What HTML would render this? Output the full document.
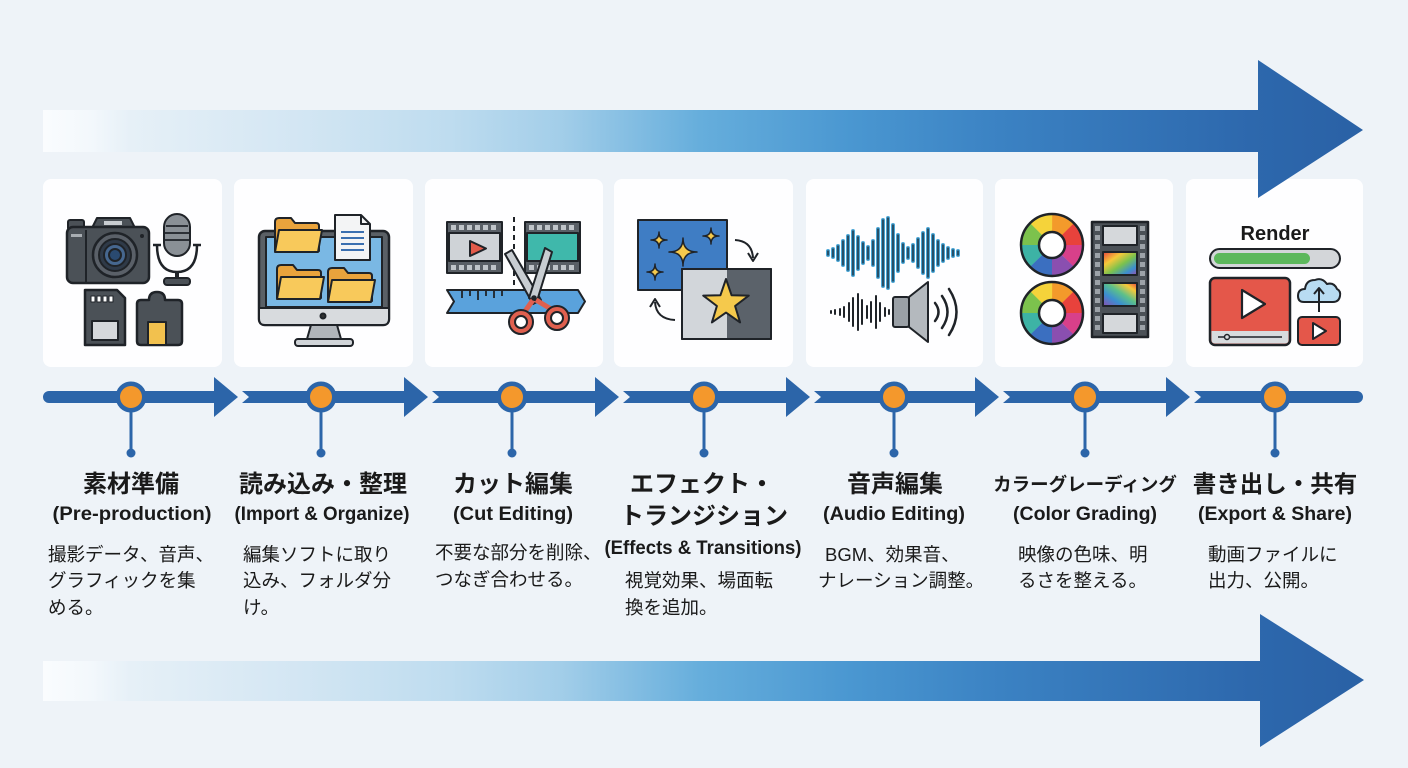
<!DOCTYPE html>
<html><head><meta charset="utf-8"><style>
html,body{margin:0;padding:0;background:#eef3f8;}
svg{display:block;}
text{font-family:"Liberation Sans","Noto Sans CJK JP",sans-serif;fill:#1a1a1a;}
.t{font-size:24px;font-weight:bold;text-anchor:middle;}
.e{font-size:19px;font-weight:bold;text-anchor:middle;}
.d{font-size:18.5px;}
.o{stroke:#1f2328;stroke-width:2;stroke-linejoin:round;}
</style></head><body>
<svg width="1408" height="768" viewBox="0 0 1408 768" xmlns="http://www.w3.org/2000/svg">
<defs>
<linearGradient id="ag" gradientUnits="userSpaceOnUse" x1="43" y1="0" x2="1364" y2="0">
<stop offset="0" stop-color="#fafcfe"/><stop offset="0.036" stop-color="#f3f8fc"/><stop offset="0.066" stop-color="#e6f0f7"/>
<stop offset="0.195" stop-color="#d3e6f3"/><stop offset="0.308" stop-color="#bedcef"/><stop offset="0.391" stop-color="#a3cee9"/>
<stop offset="0.497" stop-color="#66aedc"/><stop offset="0.611" stop-color="#4a97d1"/><stop offset="0.724" stop-color="#3b82c3"/>
<stop offset="0.914" stop-color="#2d68ad"/><stop offset="1" stop-color="#2a61a5"/>
</linearGradient>
<linearGradient id="rb1" x1="0" y1="0" x2="1" y2="1">
<stop offset="0" stop-color="#e8423c"/><stop offset="0.3" stop-color="#f5c93a"/><stop offset="0.55" stop-color="#7cc24d"/><stop offset="0.8" stop-color="#3b8fd0"/><stop offset="1" stop-color="#9a4fb0"/>
</linearGradient>
<linearGradient id="rb2" x1="0" y1="1" x2="1" y2="0">
<stop offset="0" stop-color="#8a4fb0"/><stop offset="0.3" stop-color="#3b8fd0"/><stop offset="0.55" stop-color="#5cc08a"/><stop offset="0.8" stop-color="#f5c93a"/><stop offset="1" stop-color="#e8423c"/>
</linearGradient>
<g id="folder">
<path class="o" d="M0,34 L0,5 Q0,1 4,1 L16,1 L20,6 L41,6 Q44,6 44,9 L44,34 Z" fill="#e9a33c"/>
<path class="o" d="M4,13 L47,13 L43,35 L0,35 Z" fill="#f8c95b"/>
</g>
<g id="wheel">
<circle r="22" fill="none" stroke="#f39a2b" stroke-width="18" stroke-dasharray="17.4 200" transform="rotate(-90)"/>
<circle r="22" fill="none" stroke="#e8423c" stroke-width="18" stroke-dasharray="17.4 200" transform="rotate(-45)"/>
<circle r="22" fill="none" stroke="#d8408a" stroke-width="18" stroke-dasharray="17.4 200" transform="rotate(0)"/>
<circle r="22" fill="none" stroke="#8a4fb0" stroke-width="18" stroke-dasharray="17.4 200" transform="rotate(45)"/>
<circle r="22" fill="none" stroke="#3b6fc0" stroke-width="18" stroke-dasharray="17.4 200" transform="rotate(90)"/>
<circle r="22" fill="none" stroke="#3db3a5" stroke-width="18" stroke-dasharray="17.4 200" transform="rotate(135)"/>
<circle r="22" fill="none" stroke="#7cc24d" stroke-width="18" stroke-dasharray="17.4 200" transform="rotate(180)"/>
<circle r="22" fill="none" stroke="#f5d33a" stroke-width="18" stroke-dasharray="17.4 200" transform="rotate(225)"/>
<circle r="31" fill="none" stroke="#1f2328" stroke-width="2.5"/>
<circle r="13" fill="#fff" stroke="#1f2328" stroke-width="2.5"/>
</g>
</defs>

<rect width="1408" height="768" fill="#eef3f8"/>

<!-- bottom arrow -->
<path d="M43,661 L1260,661 L1260,614 L1364,680 L1260,747 L1260,701 L43,701 Z" fill="url(#ag)"/>

<!-- cards -->
<g fill="#fefeff">
<rect x="43" y="179" width="179" height="188" rx="8"/>
<rect x="234" y="179" width="179" height="188" rx="8"/>
<rect x="425" y="179" width="178" height="188" rx="8"/>
<rect x="614" y="179" width="179" height="188" rx="8"/>
<rect x="806" y="179" width="177" height="188" rx="8"/>
<rect x="995" y="179" width="178" height="188" rx="8"/>
<rect x="1186" y="179" width="177" height="188" rx="8"/>
</g>

<!-- top arrow (drawn over cards) -->
<path d="M43,110 L1258,110 L1258,60 L1363,130 L1258,198 L1258,152 L43,152 Z" fill="url(#ag)"/>

<!-- card 1 icons -->
<g class="o">
<rect x="68" y="220" width="16" height="10" rx="2" fill="#4b5157"/>
<path d="M92,228 L97,218 L130,218 L135,228 Z" fill="#4b5157"/>
<rect x="67" y="227" width="82" height="56" rx="6" fill="#4b5157" stroke-width="2.5"/>
<line x1="86" y1="230" x2="86" y2="283"/>
<rect x="104" y="221" width="18" height="4" fill="#c8ccd0" stroke="none"/>
<rect x="71" y="234" width="11" height="3" fill="#a8adb2" stroke="none"/>
<circle cx="115" cy="255" r="22" fill="#5a6068" stroke-width="2.5"/>
<circle cx="115" cy="255" r="16" fill="#2f3a48"/>
<circle cx="115" cy="255" r="11" fill="#46678f"/>
<circle cx="115" cy="255" r="6" fill="#2a4a70"/>
<circle cx="142" cy="236" r="2" fill="#1f2328" stroke="none"/>
<rect x="164" y="214" width="26" height="42" rx="13" fill="#8a9096"/>
<line x1="166" y1="226" x2="188" y2="226" stroke-width="1.8"/>
<line x1="165" y1="233" x2="189" y2="233" stroke-width="1.8"/>
<line x1="165" y1="240" x2="189" y2="240" stroke-width="1.8"/>
<path d="M157,245 Q157,272 177,272 Q197,272 197,245" fill="none" stroke-width="2.5"/>
<line x1="153" y1="245" x2="161" y2="245" stroke-width="2.5"/>
<line x1="193" y1="245" x2="201" y2="245" stroke-width="2.5"/>
<line x1="177" y1="272" x2="177" y2="280" stroke-width="4"/>
<rect x="164" y="278" width="26" height="7" rx="3" fill="#4b5157"/>
<path d="M85,290 L117,290 L125,298 L125,345 L85,345 Z" fill="#4b5157" stroke-width="2.5"/>
<rect x="91" y="296" width="4" height="6" fill="#fff" stroke-width="1"/>
<rect x="97" y="296" width="4" height="6" fill="#fff" stroke-width="1"/>
<rect x="103" y="296" width="4" height="6" fill="#fff" stroke-width="1"/>
<rect x="109" y="296" width="4" height="6" fill="#fff" stroke-width="1"/>
<rect x="92" y="321" width="26" height="19" fill="#d5d8db"/>
<path d="M141,300 L149,300 Q149,292 157,292 Q165,292 165,300 L178,300 Q182,300 182,304 L182,341 Q182,345 178,345 L141,345 Q137,345 137,341 L137,304 Q137,300 141,300 Z" fill="#4b5157" stroke-width="2.5"/>
<rect x="148" y="322" width="18" height="23" fill="#f2c14e"/>
</g>

<!-- card 2 icons -->
<g class="o">
<rect x="259" y="231" width="130" height="94" rx="6" fill="#5a6066" stroke-width="2.5"/>
<rect x="266" y="237" width="116" height="70" fill="#7ab8e4"/>
<path d="M259,308 L389,308 L389,319 Q389,325 383,325 L265,325 Q259,325 259,319 Z" fill="#d8dbde"/>
<circle cx="323" cy="316" r="2.5" fill="#333"/>
<path d="M311,325 L337,325 L341,339 L307,339 Z" fill="#b0b5ba"/>
<rect x="295" y="339" width="58" height="7" rx="3" fill="#d0d4d8"/>
<path d="M335,215 L361,215 L370,224 L370,260 L335,260 Z" fill="#f3f4f5"/>
<path d="M361,215 L361,224 L370,224" fill="none"/>
<g stroke="#3a6fb0" stroke-width="2"><line x1="341" y1="232" x2="364" y2="232"/><line x1="341" y1="238" x2="364" y2="238"/><line x1="341" y1="244" x2="364" y2="244"/><line x1="341" y1="250" x2="364" y2="250"/></g>
</g>
<use href="#folder" x="275" y="217"/>
<use href="#folder" x="277" y="264"/>
<use href="#folder" x="328" y="267"/>

<!-- card 3 icons -->
<g class="o">
<rect x="447" y="222" width="55" height="51" fill="#595f66"/>
<rect x="449" y="233" width="51" height="28" fill="#cfd3d7"/>
<rect x="525" y="222" width="55" height="51" fill="#595f66"/>
<rect x="527" y="233" width="51" height="28" fill="#3fb8ab"/>
<path d="M470,241 L486,248.5 L470,256 Z" fill="#e35b4a"/>
</g>
<g fill="#bfc4c9">
<rect x="451" y="225" width="5" height="5"/><rect x="459" y="225" width="5" height="5"/><rect x="467" y="225" width="5" height="5"/><rect x="475" y="225" width="5" height="5"/><rect x="483" y="225" width="5" height="5"/><rect x="491" y="225" width="5" height="5"/>
<rect x="451" y="265" width="5" height="5"/><rect x="459" y="265" width="5" height="5"/><rect x="467" y="265" width="5" height="5"/><rect x="475" y="265" width="5" height="5"/><rect x="483" y="265" width="5" height="5"/><rect x="491" y="265" width="5" height="5"/>
<rect x="529" y="225" width="5" height="5"/><rect x="537" y="225" width="5" height="5"/><rect x="545" y="225" width="5" height="5"/><rect x="553" y="225" width="5" height="5"/><rect x="561" y="225" width="5" height="5"/><rect x="569" y="225" width="5" height="5"/>
<rect x="529" y="265" width="5" height="5"/><rect x="537" y="265" width="5" height="5"/><rect x="545" y="265" width="5" height="5"/><rect x="553" y="265" width="5" height="5"/><rect x="561" y="265" width="5" height="5"/><rect x="569" y="265" width="5" height="5"/>
</g>
<line x1="514" y1="217" x2="514" y2="312" stroke="#1f2328" stroke-width="2" stroke-dasharray="5 4"/>
<g class="o">
<path d="M447,290 L578,290 L585,301.5 L578,313 L447,313 L454,301.5 Z" fill="#5aa2dc"/>
<g stroke-width="1.8"><line x1="462" y1="290" x2="462" y2="298"/><line x1="470" y1="290" x2="470" y2="296"/><line x1="478" y1="290" x2="478" y2="300"/><line x1="486" y1="290" x2="486" y2="296"/><line x1="494" y1="290" x2="494" y2="298"/><line x1="502" y1="290" x2="502" y2="296"/></g>
<path d="M505,254 L512,250 L541,300 L533,304 Z" fill="#c8cdd2"/>
<path d="M545,248 L552,252 L537,301 L529,298 Z" fill="#c8cdd2"/>
<path d="M533,300 L523,314" stroke="#e0604f" stroke-width="5"/>
<path d="M536,300 L551,309" stroke="#e0604f" stroke-width="5"/>
<circle cx="521" cy="322" r="12" fill="#e0604f"/><circle cx="521" cy="322" r="6" fill="#fff"/>
<circle cx="557" cy="318" r="12" fill="#e0604f"/><circle cx="557" cy="318" r="6" fill="#fff"/>
<circle cx="534" cy="298" r="1.8" fill="#1f2328"/>
</g>

<!-- card 4 icons -->
<g class="o">
<rect x="638" y="220" width="89" height="70" fill="#3f7dc4"/>
<g fill="#f5c94c" stroke-width="1.5">
<path d="M683,238 Q683,252 697,252 Q683,252 683,266 Q683,252 669,252 Q683,252 683,238 Z"/>
<path d="M659,232 Q659,240 667,240 Q659,240 659,248 Q659,240 651,240 Q659,240 659,232 Z"/>
<path d="M711,228 Q711,236 719,236 Q711,236 711,244 Q711,236 703,236 Q711,236 711,228 Z"/>
<path d="M655,264 Q655,272 663,272 Q655,272 655,280 Q655,272 647,272 Q655,272 655,264 Z"/>
</g>
<rect x="682" y="269" width="89" height="70" fill="#d2d6da"/>
<rect x="727" y="270" width="43" height="68" fill="#5b626a" stroke="none"/>
<rect x="682" y="269" width="89" height="70" fill="none"/>
<path d="M726,279 L731.6,295.3 L748.8,295.6 L735.1,306 L740.1,322.4 L726,312.6 L711.9,322.4 L716.9,306 L703.2,295.6 L720.4,295.3 Z" fill="#f5c94c"/>
<path d="M735,240 Q752,241 753,258" fill="none"/>
<path d="M748,253 L753,261 L758,253" fill="none"/>
<path d="M675,320 Q656,319 655,302" fill="none"/>
<path d="M650,307 L655,299 L660,307" fill="none"/>
</g>

<!-- card 5 icons -->
<g stroke-linecap="round">
<g stroke="#49a6d6" stroke-width="4">
<line x1="828" y1="251" x2="828" y2="255"/><line x1="833" y1="249" x2="833" y2="257"/><line x1="838" y1="246" x2="838" y2="260"/><line x1="843" y1="241" x2="843" y2="265"/><line x1="848" y1="236" x2="848" y2="270"/><line x1="853" y1="231" x2="853" y2="275"/><line x1="858" y1="237" x2="858" y2="269"/><line x1="863" y1="243" x2="863" y2="263"/><line x1="868" y1="247" x2="868" y2="259"/><line x1="873" y1="241" x2="873" y2="265"/><line x1="878" y1="229" x2="878" y2="277"/><line x1="883" y1="220" x2="883" y2="286"/><line x1="888" y1="218" x2="888" y2="288"/><line x1="893" y1="225" x2="893" y2="281"/><line x1="898" y1="235" x2="898" y2="271"/><line x1="903" y1="244" x2="903" y2="262"/><line x1="908" y1="248" x2="908" y2="258"/><line x1="913" y1="245" x2="913" y2="261"/><line x1="918" y1="239" x2="918" y2="267"/><line x1="923" y1="233" x2="923" y2="273"/><line x1="928" y1="229" x2="928" y2="277"/><line x1="933" y1="235" x2="933" y2="271"/><line x1="938" y1="241" x2="938" y2="265"/><line x1="943" y1="245" x2="943" y2="261"/><line x1="948" y1="248" x2="948" y2="258"/><line x1="953" y1="250" x2="953" y2="256"/><line x1="958" y1="251" x2="958" y2="255"/>
</g>
<g stroke="#16222e" stroke-width="1.3">
<line x1="828" y1="251" x2="828" y2="255"/><line x1="833" y1="249" x2="833" y2="257"/><line x1="838" y1="246" x2="838" y2="260"/><line x1="843" y1="241" x2="843" y2="265"/><line x1="848" y1="236" x2="848" y2="270"/><line x1="853" y1="231" x2="853" y2="275"/><line x1="858" y1="237" x2="858" y2="269"/><line x1="863" y1="243" x2="863" y2="263"/><line x1="868" y1="247" x2="868" y2="259"/><line x1="873" y1="241" x2="873" y2="265"/><line x1="878" y1="229" x2="878" y2="277"/><line x1="883" y1="220" x2="883" y2="286"/><line x1="888" y1="218" x2="888" y2="288"/><line x1="893" y1="225" x2="893" y2="281"/><line x1="898" y1="235" x2="898" y2="271"/><line x1="903" y1="244" x2="903" y2="262"/><line x1="908" y1="248" x2="908" y2="258"/><line x1="913" y1="245" x2="913" y2="261"/><line x1="918" y1="239" x2="918" y2="267"/><line x1="923" y1="233" x2="923" y2="273"/><line x1="928" y1="229" x2="928" y2="277"/><line x1="933" y1="235" x2="933" y2="271"/><line x1="938" y1="241" x2="938" y2="265"/><line x1="943" y1="245" x2="943" y2="261"/><line x1="948" y1="248" x2="948" y2="258"/><line x1="953" y1="250" x2="953" y2="256"/><line x1="958" y1="251" x2="958" y2="255"/>
</g>
<g stroke="#1f2328" stroke-width="2">
<line x1="831" y1="311" x2="831" y2="313"/><line x1="835" y1="310" x2="835" y2="314"/><line x1="840" y1="309" x2="840" y2="315"/><line x1="844" y1="307" x2="844" y2="317"/><line x1="849" y1="303" x2="849" y2="321"/><line x1="853" y1="298" x2="853" y2="326"/><line x1="858" y1="294" x2="858" y2="330"/><line x1="862" y1="300" x2="862" y2="324"/><line x1="867" y1="306" x2="867" y2="318"/><line x1="871" y1="302" x2="871" y2="322"/><line x1="876" y1="296" x2="876" y2="328"/><line x1="880" y1="303" x2="880" y2="321"/><line x1="885" y1="308" x2="885" y2="316"/><line x1="889" y1="310" x2="889" y2="314"/>
</g>
</g>
<g class="o">
<rect x="893" y="297" width="16" height="30" rx="2" fill="#9aa0a6"/>
<path d="M909,297 L928,282 L928,342 L909,327 Z" fill="#b4b9be"/>
<g fill="none" stroke-width="2.5" stroke-linecap="round">
<path d="M935,303 Q942,312 935,321"/>
<path d="M942,296 Q953,312 942,328"/>
<path d="M949,289 Q964,312 949,335"/>
</g>
</g>

<!-- card 6 icons -->
<use href="#wheel" x="1052" y="245"/>
<use href="#wheel" x="1052" y="313"/>
<g class="o">
<rect x="1092" y="222" width="56" height="115" fill="#4b5157" stroke-width="2.5"/>
<rect x="1103" y="226" width="34" height="19" fill="#d5d8db"/>
<rect x="1103" y="252" width="34" height="23" fill="url(#rb1)"/>
<rect x="1103" y="283" width="34" height="23" fill="url(#rb2)"/>
<rect x="1103" y="314" width="34" height="19" fill="#d5d8db"/>
</g>
<g fill="#9ca2a8">
<rect x="1095" y="226" width="5" height="5"/><rect x="1095" y="235" width="5" height="5"/><rect x="1095" y="244" width="5" height="5"/><rect x="1095" y="253" width="5" height="5"/><rect x="1095" y="262" width="5" height="5"/><rect x="1095" y="271" width="5" height="5"/><rect x="1095" y="280" width="5" height="5"/><rect x="1095" y="289" width="5" height="5"/><rect x="1095" y="298" width="5" height="5"/><rect x="1095" y="307" width="5" height="5"/><rect x="1095" y="316" width="5" height="5"/><rect x="1095" y="325" width="5" height="5"/>
<rect x="1140" y="226" width="5" height="5"/><rect x="1140" y="235" width="5" height="5"/><rect x="1140" y="244" width="5" height="5"/><rect x="1140" y="253" width="5" height="5"/><rect x="1140" y="262" width="5" height="5"/><rect x="1140" y="271" width="5" height="5"/><rect x="1140" y="280" width="5" height="5"/><rect x="1140" y="289" width="5" height="5"/><rect x="1140" y="298" width="5" height="5"/><rect x="1140" y="307" width="5" height="5"/><rect x="1140" y="316" width="5" height="5"/><rect x="1140" y="325" width="5" height="5"/>
</g>

<!-- card 7 icons -->
<text x="1275" y="240" style="font-size:20px;font-weight:bold;text-anchor:middle;" fill="#1f2328">Render</text>
<g class="o">
<rect x="1210" y="249" width="130" height="19" rx="9.5" fill="#d3d6d9"/>
<rect x="1214" y="253" width="96" height="11" rx="5.5" fill="#5cb85c" stroke="none"/>
<rect x="1210" y="278" width="80" height="67" rx="5" fill="#e4574a" stroke-width="2.5"/>
<path d="M1211.5,331 L1288.5,331 L1288.5,340 Q1288.5,343.5 1285,343.5 L1215,343.5 Q1211.5,343.5 1211.5,340 Z" fill="#d8dbde" stroke="none"/>
<line x1="1218" y1="337" x2="1282" y2="337" stroke-width="1.5"/>
<circle cx="1227" cy="337" r="2.5" fill="#d8dbde" stroke-width="1.5"/>
<path d="M1242,290 L1265,304 L1242,318 Z" fill="#fff" stroke-width="2.2"/>
<path d="M1304,302 Q1298,302 1298,296 Q1298,289 1305,289 Q1306,280 1315,280 Q1322,277 1327,284 Q1334,282 1337,289 Q1341,291 1340,296 Q1339,302 1333,302 Z" fill="#b8dcf2"/>
<line x1="1319" y1="312" x2="1319" y2="289"/>
<path d="M1314,294 L1319,288 L1324,294" fill="none"/>
<rect x="1298" y="317" width="42" height="28" rx="4" fill="#e4574a"/>
<path d="M1313,323 L1326,331 L1313,339 Z" fill="#fff"/>
</g>

<!-- timeline -->
<g fill="#2c65a9">
<path d="M49,391 L214,391 L214,377 L238,397 L214,417 L214,403 L49,403 A6 6 0 0 1 49,391 Z"/>
<path d="M242,391 L404,391 L404,377 L428,397 L404,417 L404,403 L242,403 L249,397 Z"/>
<path d="M432,391 L595,391 L595,377 L619,397 L595,417 L595,403 L432,403 L439,397 Z"/>
<path d="M623,391 L786,391 L786,377 L810,397 L786,417 L786,403 L623,403 L630,397 Z"/>
<path d="M814,391 L975,391 L975,377 L999,397 L975,417 L975,403 L814,403 L821,397 Z"/>
<path d="M1003,391 L1166,391 L1166,377 L1190,397 L1166,417 L1166,403 L1003,403 L1010,397 Z"/>
<path d="M1194,391 L1357,391 A6 6 0 0 1 1357,403 L1194,403 L1201,397 Z"/>
</g>
<g stroke="#2c65a9" stroke-width="3">
<line x1="131" y1="410" x2="131" y2="452"/><line x1="321" y1="410" x2="321" y2="452"/><line x1="512" y1="410" x2="512" y2="452"/><line x1="704" y1="410" x2="704" y2="452"/><line x1="894" y1="410" x2="894" y2="452"/><line x1="1085" y1="410" x2="1085" y2="452"/><line x1="1275" y1="410" x2="1275" y2="452"/>
</g>
<g fill="#2c65a9">
<circle cx="131" cy="453" r="4.5"/><circle cx="321" cy="453" r="4.5"/><circle cx="512" cy="453" r="4.5"/><circle cx="704" cy="453" r="4.5"/><circle cx="894" cy="453" r="4.5"/><circle cx="1085" cy="453" r="4.5"/><circle cx="1275" cy="453" r="4.5"/>
<circle cx="131" cy="397" r="15.5"/><circle cx="321" cy="397" r="15.5"/><circle cx="512" cy="397" r="15.5"/><circle cx="704" cy="397" r="15.5"/><circle cx="894" cy="397" r="15.5"/><circle cx="1085" cy="397" r="15.5"/><circle cx="1275" cy="397" r="15.5"/>
</g>
<g fill="#f4982c">
<circle cx="131" cy="397" r="11"/><circle cx="321" cy="397" r="11"/><circle cx="512" cy="397" r="11"/><circle cx="704" cy="397" r="11"/><circle cx="894" cy="397" r="11"/><circle cx="1085" cy="397" r="11"/><circle cx="1275" cy="397" r="11"/>
</g>

<!-- titles -->
<text class="t" x="131" y="492">素材準備</text>
<text class="t" x="323" y="492">読み込み・整理</text>
<text class="t" x="513" y="492">カット編集</text>
<text class="t" x="702" y="492">エフェクト・</text>
<text class="t" x="704" y="524">トランジション</text>
<text class="t" x="895" y="492">音声編集</text>
<text class="t" x="1085" y="491" style="font-size:18.5px">カラーグレーディング</text>
<text class="t" x="1275" y="492" style="font-size:23.5px">書き出し・共有</text>

<!-- english -->
<text class="e" x="132" y="520" textLength="159" lengthAdjust="spacingAndGlyphs">(Pre-production)</text>
<text class="e" x="322" y="520" textLength="175" lengthAdjust="spacingAndGlyphs">(Import &amp; Organize)</text>
<text class="e" x="513" y="520" textLength="120" lengthAdjust="spacingAndGlyphs">(Cut Editing)</text>
<text class="e" x="703" y="554" textLength="197" lengthAdjust="spacingAndGlyphs">(Effects &amp; Transitions)</text>
<text class="e" x="894" y="520" textLength="142" lengthAdjust="spacingAndGlyphs">(Audio Editing)</text>
<text class="e" x="1085" y="520" textLength="144" lengthAdjust="spacingAndGlyphs">(Color Grading)</text>
<text class="e" x="1275" y="520" textLength="154" lengthAdjust="spacingAndGlyphs">(Export &amp; Share)</text>

<!-- descriptions -->
<text class="d" x="48" y="561">撮影データ、音声、</text>
<text class="d" x="48" y="587">グラフィックを集</text>
<text class="d" x="48" y="614">める。</text>
<text class="d" x="243" y="561">編集ソフトに取り</text>
<text class="d" x="243" y="587">込み、フォルダ分</text>
<text class="d" x="243" y="614">け。</text>
<text class="d" x="435" y="559">不要な部分を削除、</text>
<text class="d" x="435" y="586">つなぎ合わせる。</text>
<text class="d" x="625" y="587">視覚効果、場面転</text>
<text class="d" x="625" y="614">換を追加。</text>
<text class="d" x="825" y="561">BGM、効果音、</text>
<text class="d" x="818" y="587">ナレーション調整。</text>
<text class="d" x="1018" y="561">映像の色味、明</text>
<text class="d" x="1018" y="587">るさを整える。</text>
<text class="d" x="1208" y="561">動画ファイルに</text>
<text class="d" x="1208" y="587">出力、公開。</text>
</svg>
</body></html>
